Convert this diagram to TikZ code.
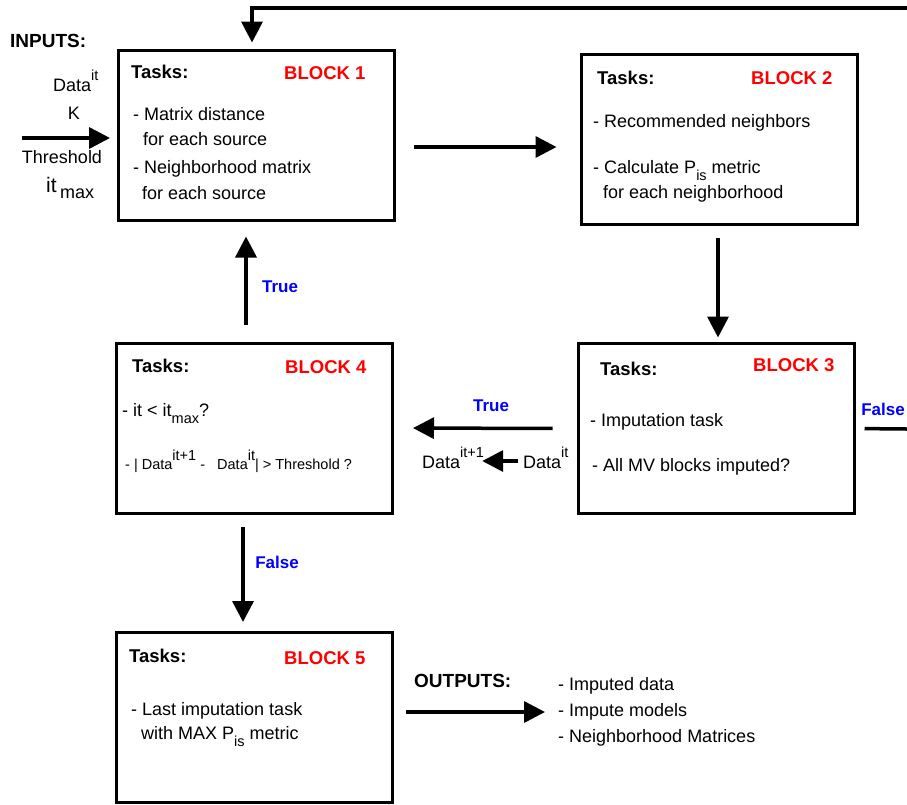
\documentclass[tikz,border=0pt]{standalone}
\usepackage{fontspec}
\setmainfont{Liberation Sans}
\usepackage{tikz}
\usetikzlibrary{arrows.meta}
\tikzset{>={Triangle[length=21pt,width=21pt]}}
\tikzset{
    blockbox/.style={draw, line width=3pt, minimum width=276pt, minimum height=170pt, inner sep=0pt, outer sep=0pt},
    tasks/.style={anchor=base west, inner sep=0pt, font=\fontsize{18.5}{22}\selectfont\bfseries},
    blocklabel/.style={tasks, text=red},
    item/.style={anchor=base west, inner sep=0pt, font=\fontsize{18}{21}\selectfont},
    cond/.style={inner sep=0pt, font=\fontsize{17}{20}\selectfont\bfseries, text=blue},
    header/.style={anchor=base west, inner sep=0pt, font=\fontsize{19}{22}\selectfont\bfseries},
    flow/.style={->, line width=3.5pt},
}
\newcommand{\supx}[1]{\raisebox{0.6em}{\fontsize{14.5}{14}\selectfont #1}}
\newcommand{\subx}[1]{\raisebox{-0.4em}{\fontsize{14.5}{14}\selectfont #1}}

\begin{document}
\begin{tikzpicture}[x=1pt, y=-1pt]
    \useasboundingbox (0,0) rectangle (907,804);
    \node[blockbox] (b1) at (256,135.5) {};
    \node[blockbox] (b2) at (719.5,139) {};
    \node[blockbox] (b3) at (716.5,428.5) {};
    \node[blockbox] (b4) at (254,428) {};
    \node[blockbox] (b5) at (254,717) {};

    % block texts
    \node[tasks] (t1) at (131,78) {Tasks:};
    \node[blocklabel] (l1) at (284,79) {BLOCK 1};
    \node[item] (i11) at (133,120) {- Matrix distance};
    \node[item] (i12) at (143,145) {for each source};
    \node[item] (i13) at (133,173) {- Neighborhood matrix};
    \node[item] (i14) at (142,199) {for each source};

    \node[tasks] (t2) at (597,84) {Tasks:};
    \node[blocklabel] (l2) at (751,84) {BLOCK 2};
    \node[item] (i21) at (593,127) {- Recommended neighbors};
    \node[item] (i22) at (593,173) {- Calculate P\subx{is} metric};
    \node[item] (i23) at (603,198) {for each neighborhood};

    \node[tasks] (t3) at (600,375) {Tasks:};
    \node[blocklabel] (l3) at (753,371) {BLOCK 3};
    \node[item] (i31) at (590,426) {- Imputation task};
    \node[item] (i32) at (592,471) {- All MV blocks imputed?};

    \node[tasks] (t4) at (132,372) {Tasks:};
    \node[blocklabel] (l4) at (285,373) {BLOCK 4};
    \node[item] (i41) at (122,416) {- it < it\subx{max}?};
    \node[item, font=\fontsize{14.5}{18}\selectfont] (i42) at (125,469)
        {- | Data\supx{it+1}\ -\ \ \ Data\supx{it}| > Threshold ?};

    \node[tasks] (t5) at (129,662) {Tasks:};
    \node[blocklabel] (l5) at (284,664) {BLOCK 5};
    \node[item] (i51) at (131,715) {- Last imputation task};
    \node[item] (i52) at (141,739) {with MAX P\subx{is} metric};

    % inputs and outputs
    \node[header] (inputs) at (10,47) {INPUTS:};
    \node[item] (in1) at (53,91) {Data\supx{it}};
    \node[item, anchor=base] (in2) at (74,119) {K};
    \node[item, anchor=base] (in3) at (62,163) {Threshold};
    \node[item, font=\fontsize{21}{22}\selectfont] (in4) at (46,192) {it\,\raisebox{-0.3em}{\fontsize{18}{18}\selectfont max}};
    \node[header] (outputs) at (414,687) {OUTPUTS:};
    \node[anchor=west, inner sep=0pt, align=left, font=\fontsize{18}{26}\selectfont] (outlist) at (558,712)
        {- Imputed data\\- Impute models\\- Neighborhood Matrices};

    \node[item] (din) at (523,468) {Data\supx{it}};
    \node[item] (dout) at (422,468) {Data\supx{it+1}};

    \node[cond] (true1) at (280,287) {True};
    \node[cond] (false1) at (277,562) {False};
    \node[cond] (true2) at (491,406) {True};
    \node[cond] (false2) at (883,409) {False};

    % connectors
    \coordinate (loopend) at (907,8);
    \coordinate (falseend) at (907,429);
    \coordinate (instart) at (22,138);
    \draw[flow, shorten >=8pt] (loopend) -| ([xshift=-4pt]b1.north);
    \draw[flow, shorten >=8pt] (instart) -- (instart -| b1.west);
    \draw[flow, shorten <=20pt, shorten >=25pt] (b1.east |- 0,147) -- (b2.west |- 0,147);
    \draw[flow, shorten <=14pt, shorten >=6pt] ([xshift=-1.5pt]b2.south) -- ([xshift=-1.5pt]b2.south |- b3.north);
    \draw[flow, shorten <=26pt, shorten >=21pt] (b3.west) -- (b4.east);
    \draw[line width=3.5pt, shorten <=10pt] (b3.east) -- (falseend);
    \draw[flow, shorten <=18pt, shorten >=16pt] ([xshift=-8pt]b4.north) -- ([xshift=-8pt]b4.north |- b1.south);
    \draw[flow, shorten <=14pt, shorten >=10pt] ([xshift=-11pt]b4.south) -- ([xshift=-11pt]b4.south |- b5.north);
    \draw[flow, shorten <=14pt, shorten >=13pt] (b5.east |- outlist) -- (outlist.west);
    \draw[flow, shorten <=5pt, shorten >=-2pt] ([yshift=7pt]din.base west) -- ([yshift=7pt]din.base west -| dout.east);
\end{tikzpicture}
\end{document}
